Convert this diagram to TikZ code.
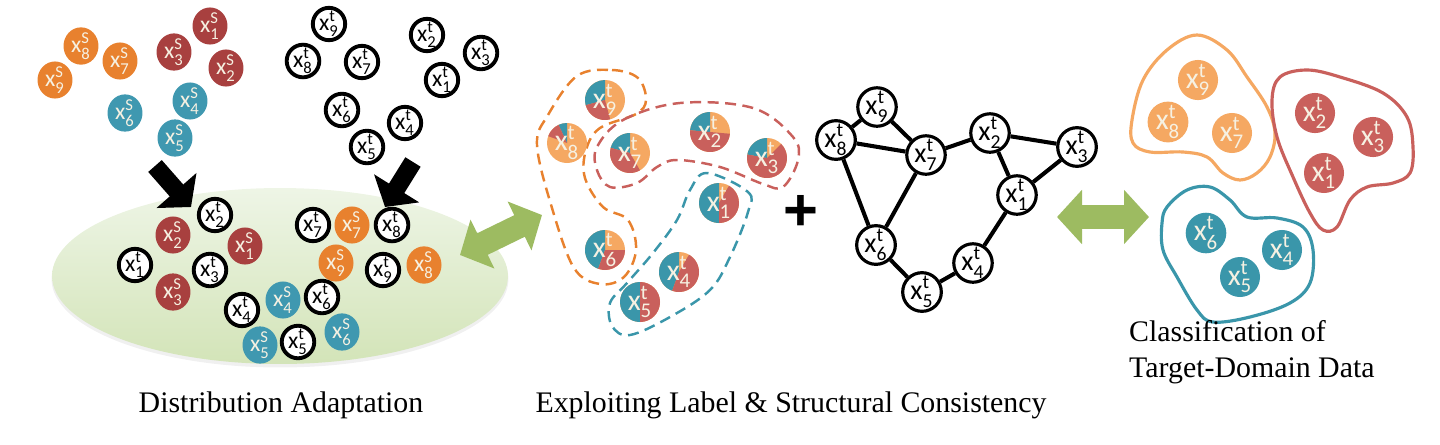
\documentclass[tikz,border=0pt]{standalone}
\usepackage{fontspec}
\setmainfont{Liberation Serif}
\newfontfamily\carlito{Carlito}
\newfontfamily\plusfont{Liberation Sans}
\usepackage{amsmath}
\usepackage{tikz}
\usetikzlibrary{arrows.meta,shapes.geometric}
\newcommand{\xl}[2]{$\text{x}^{\text{#1}}_{\text{#2}}$}

\begin{document}
\begin{tikzpicture}[x=0.02cm,y=-0.02cm,
  srcnode/.style={ellipse,minimum width=0.7cm,minimum height=0.58cm,inner sep=0pt,text=cream,font=\fontsize{13.5}{13.5}\selectfont\carlito},
  tgtnode/.style={circle,draw,line width=2.2pt,minimum size=0.62cm,inner sep=0pt,fill=white,font=\fontsize{13.5}{13.5}\selectfont\carlito},
  pienode/.style={circle,minimum size=0.8cm,inner sep=0pt,text=cream,font=\fontsize{17}{17}\selectfont\carlito},
  graphnode/.style={circle,draw,line width=1.8pt,minimum size=0.74cm,inner sep=0pt,fill=white,font=\fontsize{16}{16}\selectfont\carlito},
  clusnode/.style={circle,minimum size=0.8cm,inner sep=0pt,text=cream,font=\fontsize{17}{17}\selectfont\carlito},
  blockarrow/.style={line width=0.36cm,-{Triangle[length=0.44cm,width=1.04cm]}},
  greenarrow/.style={draw=arrowgreen,line width=0.48cm,{Triangle[length=0.5cm,width=1.06cm]}-{Triangle[length=0.5cm,width=1.06cm]}},
  groupline/.style={line width=1.4pt,dash pattern=on 0.22cm off 0.13cm},
  blobline/.style={line width=1.8pt,fill=white},
  caption/.style={anchor=base,font=\fontsize{17}{20}\selectfont}]
\definecolor{cream}{HTML}{F6F1E2}
\definecolor{srcorange}{HTML}{E8812E}
\definecolor{srcred}{HTML}{A8403F}
\definecolor{srcteal}{HTML}{3F98B0}
\definecolor{tgtorange}{HTML}{F5A862}
\definecolor{tgtred}{HTML}{C9605C}
\definecolor{tgtteal}{HTML}{3A96AA}
\definecolor{arrowgreen}{HTML}{9DBB61}
\definecolor{palegreen}{HTML}{EEF5E6}
\definecolor{leafgreen}{HTML}{D3E4B8}
\useasboundingbox (0,0) rectangle (1440,444);

% source and target samples
\foreach \n/\cl/\px/\py in {1/srcred/210/26,2/srcred/226/68,3/srcred/174/52,4/srcteal/190/101,5/srcteal/175/138,6/srcteal/125/113,7/srcorange/120/61,8/srcorange/81/46,9/srcorange/55/80}
  {\node[srcnode,fill=\cl] (s\n) at (\px,\py) {\xl{S}{\n}};}
\foreach \n/\px/\py in {1/442/80,2/427/35,3/481/53,4/405/123,5/367/147,6/342/110,7/362/62,8/303/61,9/329/24}
  {\node[tgtnode] (t\n) at (\px,\py) {\xl{t}{\n}};}

% adaptation
\fill[black!20,opacity=0.3] (280,279) ellipse[x radius=4.57cm,y radius=1.77cm];
\shade[top color=palegreen,bottom color=leafgreen] (280,276) ellipse[x radius=4.56cm,y radius=1.76cm];
\coordinate (srctail) at (155,166);
\coordinate (srctip) at (191,207);
\coordinate (tgttail) at (413,162);
\coordinate (tgttip) at (385,207);
\draw[blockarrow] (srctail) -- (srctip);
\draw[blockarrow] (tgttail) -- (tgttip);
\foreach \n/\cl/\px/\py in {1/srcred/245/246,2/srcred/173/235,3/srcred/173/292,4/srcteal/283/300,5/srcteal/260/345,6/srcteal/342/332,7/srcorange/352/225,8/srcorange/424/265,9/srcorange/336/263}
  {\node[srcnode,fill=\cl] (ms\n) at (\px,\py) {\xl{S}{\n}};}
\foreach \n/\px/\py in {1/135/265,2/215/215,3/210/270,4/242/310,5/298/342,6/322/297,7/313/225,8/392/225,9/383/270}
  {\node[tgtnode] (mt\n) at (\px,\py) {\xl{t}{\n}};}

% label consistency
\draw[groupline,draw=srcorange] plot[smooth cycle,tension=0.6] coordinates {(577,76) (612,70) (638,78) (646,100) (636,114) (600,128) (586,150) (585,178) (603,207) (628,220) (636,250) (624,277) (600,284) (574,268) (552,208) (537,145) (548,115)};
\draw[groupline,draw=tgtred] plot[smooth cycle,tension=0.6] coordinates {(597,147) (623,120) (680,103) (753,108) (793,137) (798,160) (783,187) (763,184) (720,167) (677,160) (657,167) (637,183) (610,187) (597,170)};
\draw[groupline,draw=tgtteal] plot[smooth cycle,tension=0.6] coordinates {(707,173) (748,192) (748,212) (730,257) (710,290) (670,317) (630,335) (612,326) (610,303) (627,283) (653,253) (677,220) (690,190)};
\foreach \n/\px/\py/\ta/\tr in {9/605/100/195/285,8/567/143/115/160,7/630/153/165/300,2/710/132/175/355,3/767/158/170/405,1/719/203/270/420,6/605/250/250/360,4/679/272/250/420,5/640/302/270/450}
  {\fill[tgtorange] (\px,\py) circle[radius=0.4cm];
   \fill[tgtteal] (\px,\py) -- ++(90:0.4cm) arc[start angle=90,end angle=\ta,radius=0.4cm] -- cycle;
   \fill[tgtred] (\px,\py) -- ++(\ta:0.4cm) arc[start angle=\ta,end angle=\tr,radius=0.4cm] -- cycle;
   \node[pienode] (p\n) at (\px,\py) {\xl{t}{\n}};}
\coordinate (adaptend) at (460,255);
\coordinate (labelend) at (542,215);
\draw[greenarrow] (adaptend) -- (labelend);

\node[font=\fontsize{34}{34}\selectfont\plusfont\bfseries] (plus) at (801,213) {+};

% structural consistency
\foreach \n/\px/\py in {1/1017/195,2/990/133,3/1077/147,4/973/263,5/922/292,6/876/245,7/926/155,8/836/140,9/877/107}
  {\node[graphnode] (g\n) at (\px,\py) {\xl{t}{\n}};}
\foreach \a/\b in {9/8,9/7,8/7,8/6,7/6,7/2,2/3,2/1,3/1,1/4,4/5,5/6}
  {\draw[line width=2.3pt] (g\a) -- (g\b);}

% classification
\coordinate (graphend) at (1057,217);
\coordinate (clusend) at (1149,217);
\draw[greenarrow] (graphend) -- (clusend);
\draw[blobline,draw=tgtorange] plot[smooth cycle,tension=0.6] coordinates {(1197,35) (1227,50) (1247,77) (1267,107) (1275,133) (1270,157) (1257,173) (1240,180) (1223,173) (1207,157) (1183,152) (1150,152) (1133,143) (1132,120) (1143,80) (1167,50)};
\draw[blobline,draw=tgtred] plot[smooth cycle,tension=0.6] coordinates {(1280,77) (1307,70) (1340,77) (1383,93) (1407,117) (1413,147) (1410,173) (1393,183) (1367,187) (1350,200) (1337,227) (1323,230) (1310,213) (1293,177) (1277,137) (1272,100)};
\draw[blobline,draw=tgtteal] plot[smooth cycle,tension=0.6] coordinates {(1167,207) (1187,190) (1210,187) (1230,200) (1247,217) (1277,218) (1303,227) (1313,250) (1310,283) (1290,303) (1250,317) (1213,322) (1197,310) (1177,277) (1163,250) (1162,223)};
\foreach \n/\cl/\px/\py in {9/tgtorange/1198/80,8/tgtorange/1168/122,7/tgtorange/1232/133,2/tgtred/1315/113,3/tgtred/1373/137,1/tgtred/1324/173,6/tgtteal/1206/233,4/tgtteal/1282/250,5/tgtteal/1240/277}
  {\node[clusnode,fill=\cl] (c\n) at (\px,\py) {\xl{t}{\n}};}

% captions
\node[caption] (capadapt) at (281,412) {Distribution Adaptation};
\node[caption] (capexploit) at (791,412) {Exploiting Label \& Structural Consistency};
\node[caption,anchor=base west,align=left] (capclass) at (1123,377) {Classification of\\Target-Domain Data};
\end{tikzpicture}
\end{document}
